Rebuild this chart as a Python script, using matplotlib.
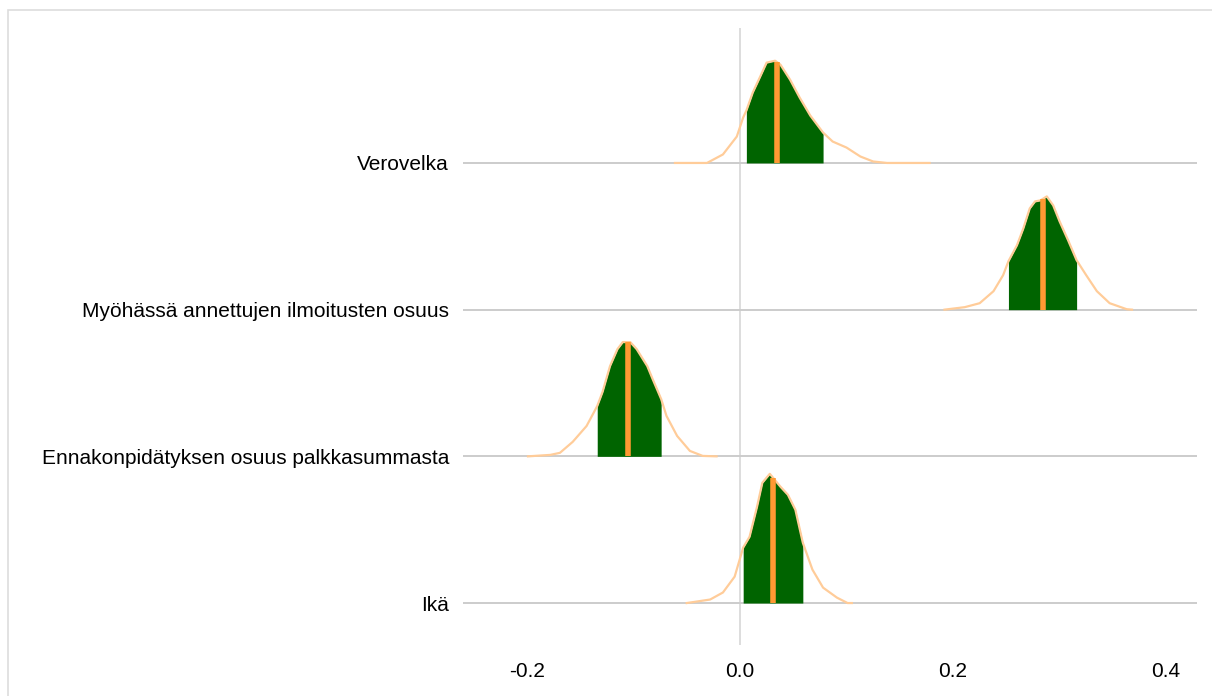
import matplotlib.pyplot as plt
import numpy as np
from matplotlib.patches import Rectangle

plt.rcParams['font.family'] = ['Liberation Sans', 'DejaVu Sans']

# parameter names, bottom to top
labels = ["Ikä",
          "Ennakonpidätyksen osuus palkkasummasta",
          "Myöhässä annettujen ilmoitusten osuus",
          "Verovelka"]

# posterior density outlines (x, height relative to row spacing)
ika_x = [-0.050, -0.028, -0.016, -0.005, 0.003, 0.009, 0.016, 0.021, 0.028, 0.038,
         0.045, 0.052, 0.059, 0.068, 0.078, 0.091, 0.101, 0.105]
ika_h = [0.0, 0.024, 0.072, 0.180, 0.378, 0.452, 0.656, 0.820, 0.881, 0.793,
         0.738, 0.636, 0.411, 0.228, 0.105, 0.037, 0.0, 0.0]

enn_x = [-0.199, -0.178, -0.169, -0.157, -0.144, -0.134, -0.129, -0.122, -0.115, -0.110,
         -0.103, -0.097, -0.087, -0.082, -0.074, -0.069, -0.059, -0.047, -0.035, -0.022]
enn_h = [0.0, 0.010, 0.024, 0.099, 0.207, 0.343, 0.439, 0.615, 0.731, 0.779,
         0.779, 0.731, 0.615, 0.527, 0.391, 0.276, 0.139, 0.037, 0.003, 0.0]

myo_x = [0.192, 0.211, 0.225, 0.238, 0.247, 0.252, 0.260, 0.266, 0.272, 0.277,
         0.282, 0.288, 0.294, 0.300, 0.308, 0.316, 0.325, 0.335, 0.347, 0.363, 0.368]
myo_h = [0.0, 0.017, 0.044, 0.126, 0.235, 0.330, 0.439, 0.554, 0.690, 0.738,
         0.745, 0.772, 0.711, 0.602, 0.473, 0.337, 0.235, 0.126, 0.044, 0.003, 0.0]

ver_x = [-0.061, -0.031, -0.016, -0.003, 0.003, 0.006, 0.012, 0.019, 0.025, 0.033,
         0.038, 0.047, 0.056, 0.066, 0.078, 0.087, 0.100, 0.113, 0.125, 0.138, 0.178]
ver_h = [0.0, 0.0, 0.058, 0.180, 0.310, 0.357, 0.480, 0.589, 0.684, 0.697,
         0.670, 0.568, 0.446, 0.323, 0.207, 0.146, 0.105, 0.044, 0.010, 0.0, 0.0]

# medians and inner (50 %) intervals
medians = [0.031, -0.105, 0.284, 0.035]
lower = [0.003, -0.134, 0.252, 0.006]
upper = [0.059, -0.074, 0.316, 0.078]

curves = [(ika_x, ika_h), (enn_x, enn_h), (myo_x, myo_h), (ver_x, ver_h)]

fig = plt.figure(figsize=(12.12, 6.96), dpi=100)
ax = fig.add_axes([463/1212, 1 - 645/696, (1197 - 463)/1212, (645 - 28)/696])

# panel border
fig.patches.append(Rectangle((8/1212, -0.05), 1.1, 1 - 10/696 + 0.05,
                             transform=fig.transFigure, fill=False,
                             edgecolor='#DDDDDD', linewidth=1.2))

ax.axvline(0, color='#DDDDDD', linewidth=1.4, zorder=0)
for i in range(len(labels)):
    ax.axhline(i, color='#CCCCCC', linewidth=1.4, zorder=0)

for i, (xs, hs) in enumerate(curves):
    xs = np.array(xs)
    hs = np.array(hs)
    m = (xs >= lower[i]) & (xs <= upper[i])
    ax.fill_between(xs[m], i, i + hs[m], color='#006400', linewidth=0, zorder=2)
    ax.plot(xs, i + hs, color='#FFCC99', linewidth=1.6, zorder=3)
    mh = np.interp(medians[i], xs, hs)
    ax.plot([medians[i], medians[i]], [i, i + mh], color='#FF9933',
            linewidth=4, solid_capstyle='butt', zorder=4)

ax.set_xlim(-0.26, 0.429)
ax.set_ylim(-0.286, 3.92)
ax.set_xticks([-0.2, 0.0, 0.2, 0.4])
ax.set_xticklabels(["-0.2", "0.0", "0.2", "0.4"])
ax.set_yticks(range(len(labels)))
ax.set_yticklabels(labels, va='center_baseline')
ax.tick_params(axis='both', length=0, labelsize=15, colors='black')
ax.tick_params(axis='x', pad=12)
ax.tick_params(axis='y', pad=10)
for s in ax.spines.values():
    s.set_visible(False)
ax.set_facecolor('none')

fig.savefig("out.png", dpi=100)
